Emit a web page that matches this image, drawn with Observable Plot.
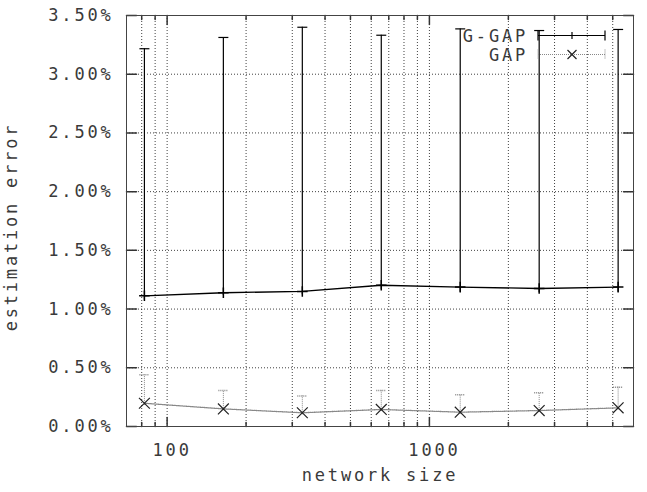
<!DOCTYPE html>
<html><head><meta charset="utf-8">
<script src="https://cdn.jsdelivr.net/npm/d3@7"></script>
<script src="https://cdn.jsdelivr.net/npm/@observablehq/plot@0.6"></script>
<style>
body{margin:0;background:#fff;}
#wrap{position:relative;width:647px;height:492px;}
#legend{position:absolute;left:0;top:0;pointer-events:none;}
</style></head><body><div id="wrap"></div>
<script>
// ---- data ----
const networkSize = [81.92, 163.84, 327.68, 655.36, 1310.72, 2621.44, 5242.88];
const ggapMean = [1.113, 1.139, 1.150, 1.203, 1.187, 1.175, 1.187];
const ggapLow  = [1.077, 1.116, 1.122, 1.164, 1.144, 1.139, 1.144];
const ggapHigh = [3.217, 3.313, 3.400, 3.332, 3.386, 3.372, 3.381];
const gapMean  = [0.198, 0.150, 0.117, 0.145, 0.122, 0.136, 0.159];
const gapLow   = [0.180, 0.135, 0.100, 0.130, 0.105, 0.120, 0.140];
const gapHigh  = [0.440, 0.307, 0.260, 0.307, 0.270, 0.287, 0.335];
const yTicks = [0, 0.5, 1, 1.5, 2, 2.5, 3, 3.5];
const xMajor = [100, 1000];
const xMinor = [80, 90, 200, 300, 400, 500, 600, 700, 800, 900, 2000, 3000, 4000, 5000];
const xDomain = [70, 6000];
const yDomain = [0, 3.5];
const seriesNames = ["G-GAP", "GAP"];
const xLabel = "network size";
const yLabel = "estimation error";

// ---- helpers ----
const fontFam = "'DejaVu Sans Mono', monospace";
const capSymbol = {draw(ctx, size){ const w = Math.sqrt(size/Math.PI); ctx.moveTo(-w,0); ctx.lineTo(w,0); }};
const tickShape = {draw(ctx, l){ ctx.moveTo(0,0); ctx.lineTo(0,-l); }};
const ggap = networkSize.map((n,i)=>({n, mean: ggapMean[i], lo: ggapLow[i], hi: ggapHigh[i]}));
const gap  = networkSize.map((n,i)=>({n, mean: gapMean[i], lo: gapLow[i], hi: gapHigh[i]}));
const fmtPct = d => d.toFixed(2) + "%";
const tickStroke = "#333";
const gridStyle = {stroke: "#000", strokeDasharray: "1,2", strokeOpacity: 0.75};
const txt = {fontFamily: fontFam, fontSize: 17, fill: "#3a3a3a"};

const chart = Plot.plot({
  width: 647, height: 492,
  marginLeft: 126, marginRight: 14, marginTop: 15, marginBottom: 66,
  x: {type: "log", domain: xDomain, axis: null},
  y: {domain: yDomain, axis: null},
  style: {fontFamily: fontFam, fontSize: "17px", background: "white", letterSpacing: "2.8px"},
  marks: [
    Plot.ruleY(yTicks, gridStyle),
    Plot.ruleX([...xMajor, ...xMinor], gridStyle),
    // inward ticks
    Plot.vector(yTicks, {y: d=>d, frameAnchor: "left", rotate: 90, length: 10, anchor: "start", shape: tickShape, stroke: tickStroke}),
    Plot.vector(yTicks, {y: d=>d, frameAnchor: "right", rotate: -90, length: 10, anchor: "start", shape: tickShape, stroke: tickStroke}),
    Plot.vector(xMajor, {x: d=>d, frameAnchor: "bottom", rotate: 0, length: 9, anchor: "start", shape: tickShape, stroke: tickStroke}),
    Plot.vector(xMajor, {x: d=>d, frameAnchor: "top", rotate: 180, length: 9, anchor: "start", shape: tickShape, stroke: tickStroke}),
    Plot.vector(xMinor, {x: d=>d, frameAnchor: "bottom", rotate: 0, length: 4, anchor: "start", shape: tickShape, stroke: tickStroke}),
    Plot.vector(xMinor, {x: d=>d, frameAnchor: "top", rotate: 180, length: 4, anchor: "start", shape: tickShape, stroke: tickStroke}),
    // tick labels
    Plot.text(yTicks, {y: d=>d, text: fmtPct, frameAnchor: "left", dx: -13, textAnchor: "end", lineAnchor: "middle", ...txt}),
    Plot.text(xMajor, {x: d=>d, text: d=>String(d), frameAnchor: "bottom", dy: 29, dx: 5, textAnchor: "middle", lineAnchor: "bottom", ...txt}),
    // axis titles
    Plot.text([xLabel], {frameAnchor: "bottom", dy: 54, dx: 0, textAnchor: "middle", lineAnchor: "bottom", ...txt}),
    Plot.text([yLabel], {frameAnchor: "left", dx: -115, dy: 6, rotate: -90, textAnchor: "middle", lineAnchor: "middle", ...txt, letterSpacing: "3.8px"}),
    // GAP series
    Plot.ruleX(gap, {x: "n", y1: "lo", y2: "hi", stroke: "#888", strokeDasharray: "1,1"}),
    Plot.dot(gap, {x: "n", y: "hi", symbol: capSymbol, r: 5, fill: "none", stroke: "#888", strokeDasharray: "1,1"}),
    Plot.line(gap, {x: "n", y: "mean", stroke: "#888", strokeDasharray: "1,1", strokeWidth: 1.3}),
    Plot.dot(gap, {x: "n", y: "mean", symbol: "times", r: 5, fill: "none", stroke: "#222", strokeWidth: 1.2}),
    // G-GAP series
    Plot.ruleX(ggap, {x: "n", y1: "lo", y2: "hi", stroke: "#000", strokeWidth: 1.2}),
    Plot.dot(ggap, {x: "n", y: "hi", symbol: capSymbol, r: 5, fill: "none", stroke: "#000", strokeWidth: 1.2}),
    Plot.line(ggap, {x: "n", y: "mean", stroke: "#000", strokeWidth: 1.3}),
    Plot.dot(ggap, {x: "n", y: "mean", symbol: "plus", r: 3.5, fill: "none", stroke: "#000"}),
    Plot.frame({stroke: "#444"})
  ]
});
const wrap = document.getElementById("wrap");
wrap.appendChild(chart);

// ---- in-plot key (gnuplot style) ----
const leg = d3.select(wrap).append("svg").attr("id","legend").attr("width",647).attr("height",492)
  .attr("font-family", fontFam).attr("font-size",17).attr("letter-spacing","2.8px");
const rows = [
  {name: seriesNames[0], y: 35.5, stroke: "#000", dash: null, sw: 1.2},
  {name: seriesNames[1], y: 54.5, stroke: "#888", dash: "1,1", sw: 1}
];
const x0 = 538, x1 = 605, xm = 572;
rows.forEach((r, i) => {
  leg.append("text").attr("x", 528).attr("y", r.y + 6).attr("text-anchor","end").attr("fill","#3a3a3a").text(r.name);
  const g = leg.append("g").attr("stroke", r.stroke).attr("stroke-width", r.sw).attr("fill","none");
  if (r.dash) g.attr("stroke-dasharray", r.dash);
  g.append("line").attr("x1",x0).attr("x2",x1).attr("y1",r.y).attr("y2",r.y);
  g.append("line").attr("x1",x0).attr("x2",x0).attr("y1",r.y-5).attr("y2",r.y+5);
  g.append("line").attr("x1",x1).attr("x2",x1).attr("y1",r.y-5).attr("y2",r.y+5);
  if (i === 0) {
    g.append("line").attr("x1",xm).attr("x2",xm).attr("y1",r.y-3.5).attr("y2",r.y+3.5);
  } else {
    leg.append("path").attr("d", `M${xm-4.5},${r.y-4.5}L${xm+4.5},${r.y+4.5}M${xm-4.5},${r.y+4.5}L${xm+4.5},${r.y-4.5}`)
      .attr("stroke","#222").attr("stroke-width",1.2).attr("fill","none");
  }
});
</script>
</body></html>
